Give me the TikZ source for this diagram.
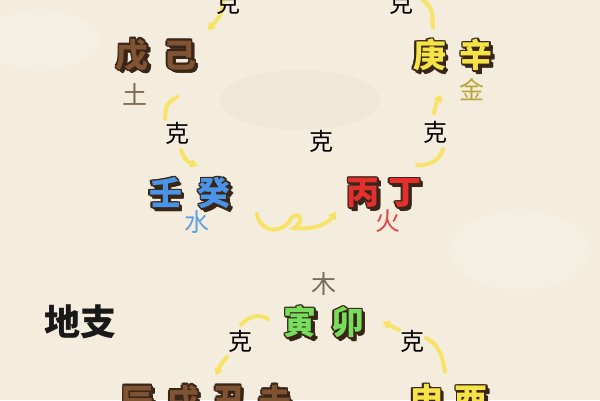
\documentclass[tikz,border=0pt]{standalone}
\usepackage{fontspec}
\newfontfamily\cjk{Noto Sans CJK SC}
\usetikzlibrary{arrows.meta}
\definecolor{bg}{RGB}{244,237,221}
\definecolor{arrowy}{RGB}{247,226,92}
\definecolor{shade}{RGB}{58,38,24}
\definecolor{earth}{RGB}{128,84,50}
\definecolor{water}{RGB}{74,148,232}
\definecolor{fire}{RGB}{228,48,44}
\definecolor{metal}{RGB}{246,228,70}
\definecolor{wood}{RGB}{118,222,92}
\definecolor{earthlbl}{RGB}{122,106,82}
\definecolor{waterlbl}{RGB}{96,160,226}
\definecolor{firelbl}{RGB}{222,72,72}
\definecolor{metallbl}{RGB}{186,166,58}
\definecolor{woodlbl}{RGB}{118,108,90}
\newcommand\fancytext[4]{%
  \foreach \dx/\dy in {-1.2/-1.2,1.2/-1.2,-1.2/1.2,1.2/1.2,0/-1.5,0/1.5,-1.5/0,1.5/0,1.5/1.5,2/2,2.5/2.5,3/3,3.5/3.5,3.5/2.8,2.8/3.5}{%
    \node[big,text=shade,xshift=\dx pt,yshift=-\dy pt] at (#2) {#4};}%
  \node[big,text=#3] (#1) at (#2) {#4};}
\begin{document}
\begin{tikzpicture}[x=1pt,y=-1pt,
  big/.style={font=\cjk\bfseries\fontsize{33}{33}\selectfont,inner sep=0pt},
  ke/.style={font=\cjk\fontsize{24}{24}\selectfont,inner sep=0pt,text=black},
  elem/.style={font=\cjk\fontsize{25}{25}\selectfont,inner sep=0pt},
  title/.style={font=\cjk\bfseries\fontsize{36}{36}\selectfont,inner sep=0pt,text=black!90},
  yarrow/.style={draw=arrowy,line width=4pt,line cap=round,opacity=0.9},
  tip/.style={-{Stealth[length=9pt,width=11pt,round]}}]
\fill[bg] (0,0) rectangle (600,400);
\useasboundingbox (0,0) rectangle (600,400);
% faint texture
\fill[white,opacity=0.12] (40,40) ellipse (60 and 30);
\fill[white,opacity=0.12] (520,250) ellipse (70 and 40);
\fill[black!30!bg,opacity=0.06] (300,100) ellipse (80 and 30);

% heavenly stems
\fancytext{wuji}{156,55}{earth}{戊\hspace{15pt}己}
\fancytext{gengxin}{453,55}{metal}{庚\hspace{14pt}辛}
\fancytext{rengui}{190,193}{water}{壬\hspace{16pt}癸}
\fancytext{bingding}{384,193}{fire}{丙\hspace{9pt}丁}
\node[elem,text=earthlbl] (tu) at (135,94) {土};
\node[elem,text=metallbl] (jin) at (472,90) {金};
\node[elem,text=waterlbl] (shui) at (197,222) {水};
\node[elem,text=firelbl] (huo) at (388,221) {火};

% branches
\node[title] (dizhi) at (80,322) {地支};
\fancytext{yinmao}{324,322}{wood}{寅\hspace{15pt}卯}
\fancytext{chenxu}{206,401}{earth}{辰\hspace{13pt}戌\hspace{13pt}丑\hspace{13pt}未}
\fancytext{shenyou}{449,400}{metal}{申\hspace{12pt}酉}
\node[elem,text=woodlbl] (mu) at (324,284) {木};

% connector coordinates
\coordinate (a1s) at (223,-2); \coordinate (a1e) at (208,30);
\coordinate (a2s) at (177,97); \coordinate (a2e) at (165,119);
\coordinate (a3s) at (181,150); \coordinate (a3e) at (197,166);
\coordinate (a4s) at (257,214); \coordinate (a4e) at (336,212);
\coordinate (a5s) at (417,165); \coordinate (a5e) at (443,149);
\coordinate (a6s) at (434,113); \coordinate (a6e) at (441,95);
\coordinate (a7s) at (421,-2); \coordinate (a7e) at (433,28);
\coordinate (b1s) at (268,319); \coordinate (b1e) at (241,325);
\coordinate (b2s) at (227,357); \coordinate (b2e) at (216,375);
\coordinate (b3s) at (445,372); \coordinate (b3e) at (426,338);
\coordinate (b4s) at (399,330); \coordinate (b4e) at (383,322);

% arrows
\draw[yarrow,tip] (a1s) .. controls (222,14) .. (a1e);
\draw[yarrow] (a2s) .. controls (166,104) .. (a2e);
\draw[yarrow,tip] (a3s) .. controls (185,160) .. (a3e);
\draw[yarrow,tip] (a4s) .. controls (260,232) and (280,234) .. (289,222)
  .. controls (293,213) and (302,213) .. (300,221)
  .. controls (298,228) and (290,228) .. (296,228)
  .. controls (310,230) and (326,226) .. (a4e);
\draw[yarrow] (a5s) .. controls (430,166) and (440,160) .. (a5e);
\draw[yarrow,tip] (a6s) .. controls (436,104) .. (a6e);
\draw[yarrow] (a7s) .. controls (432,8) .. (a7e);
\draw[yarrow] (b1s) .. controls (258,313) and (247,317) .. (b1e);
\draw[yarrow,tip] (b2s) .. controls (221,364) .. (b2e);
\draw[yarrow] (b3s) .. controls (443,355) and (437,343) .. (b3e);
\draw[yarrow,tip] (b4s) -- (b4e);

% ke labels
\node[ke] (k1) at (228,3) {克};
\node[ke] (k2) at (177,133) {克};
\node[ke] (k3) at (321,141) {克};
\node[ke] (k4) at (435,132) {克};
\node[ke] (k5) at (401,3) {克};
\node[ke] (k6) at (240,341) {克};
\node[ke] (k7) at (412,341) {克};
\end{tikzpicture}
\end{document}
